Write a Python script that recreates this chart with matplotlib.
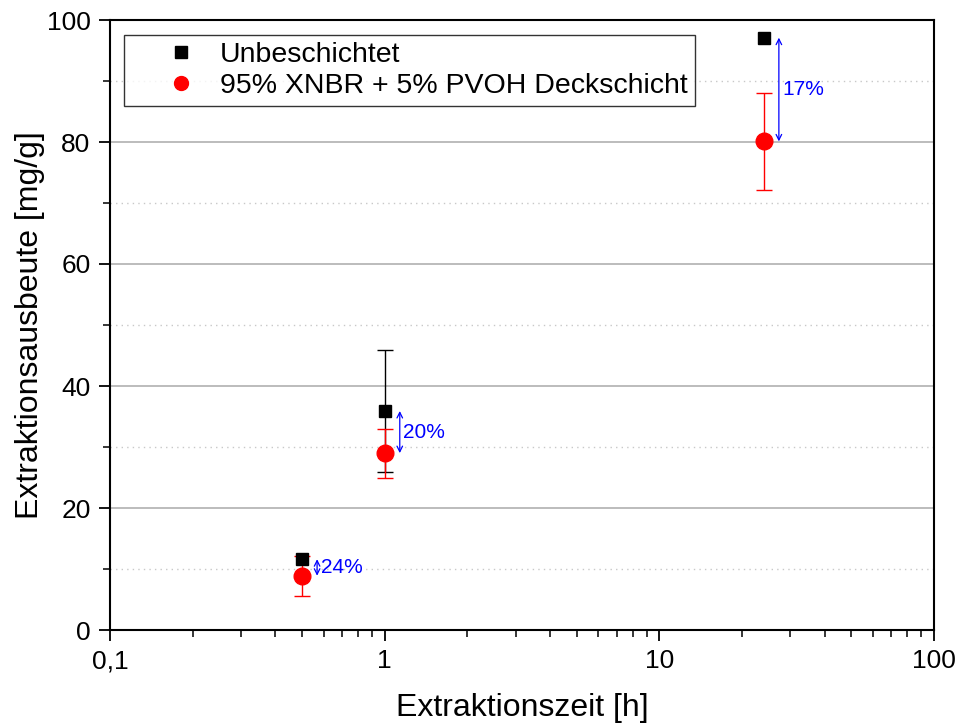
import matplotlib
matplotlib.use("Agg")
from matplotlib import pyplot as plt
from matplotlib.lines import Line2D
from matplotlib.ticker import FixedLocator, LogLocator, NullFormatter
import numpy as np

plt.rcParams['font.family'] = ['Liberation Sans', 'DejaVu Sans']

# extraction times [h]
zeit = [0.5, 1, 24]
# uncoated samples
unbeschichtet = [11.6, 35.9, 97.1]
unbeschichtet_err = [0.0, 10.0, 0.0]
# coated with 95% XNBR + 5% PVOH
deckschicht = [8.9, 29.0, 80.1]
deckschicht_err = [3.3, 4.0, 8.0]
# relative reduction labels
reduktion = ["24%", "20%", "17%"]

fig = plt.figure(figsize=(9.57, 7.27), dpi=100)
ax = fig.add_axes([110 / 957, 97 / 727, 824 / 957, 610 / 727])

# error bars only where a deviation was measured
for x, y, e in zip(zeit, unbeschichtet, unbeschichtet_err):
    if e > 0:
        ax.errorbar(x, y, yerr=e, fmt='none', ecolor='black', elinewidth=1,
                    capsize=6, capthick=1, zorder=3)
for x, y, e in zip(zeit, deckschicht, deckschicht_err):
    if e > 0:
        ax.errorbar(x, y, yerr=e, fmt='none', ecolor='red', elinewidth=1,
                    capsize=6, capthick=1, zorder=4)
ax.plot(zeit, unbeschichtet, 's', color='black', ms=9, zorder=5)
ax.plot(zeit, deckschicht, 'o', color='red', ms=12, zorder=6)

# arrows marking the difference between both series
for x, y1, y2, txt in zip(zeit, unbeschichtet, deckschicht, reduktion):
    xa = x * 1.135
    ax.annotate('', xy=(xa, y2), xytext=(xa, y1),
                arrowprops=dict(arrowstyle='<->', color='blue', lw=0.9,
                                shrinkA=0, shrinkB=0))
    ax.text(x * 1.17, (y1 + y2) / 2, txt, color='blue', fontsize=15,
            va='center', ha='left')

ax.set_xscale('log')
ax.set_xlim(0.1, 100)
ax.set_ylim(0, 100)
ax.set_xticks([0.1, 1, 10, 100])
ax.set_xticklabels(['0,1', '1', '10', '100'])
ax.xaxis.set_minor_locator(LogLocator(base=10, subs=np.arange(2, 10)))
ax.xaxis.set_minor_formatter(NullFormatter())
ax.set_yticks([0, 20, 40, 60, 80, 100])
ax.yaxis.set_minor_locator(FixedLocator([10, 30, 50, 70, 90]))

ax.grid(axis='y', which='major', color='#b0b0b0', lw=1.2)
ax.grid(axis='y', which='minor', color='#c8c8c8', lw=1, ls=(0, (1, 3)))
ax.set_axisbelow(True)

ax.tick_params(which='major', direction='out', length=8, width=1.3,
               labelsize=19, top=False, right=False, pad=6)
ax.tick_params(which='minor', direction='out', length=5, width=1.1,
               top=False, right=False)
for sp in ax.spines.values():
    sp.set_linewidth(1.5)

ax.set_xlabel('Extraktionszeit [h]', fontsize=23, labelpad=14)
ax.set_ylabel('Extraktionsausbeute [mg/g]', fontsize=23, labelpad=1)

handles = [
    Line2D([], [], ls='none', marker='s', color='black', ms=8),
    Line2D([], [], ls='none', marker='o', color='red', ms=10),
]
labels = ['Unbeschichtet', '95% XNBR + 5% PVOH Deckschicht']
leg = ax.legend(handles, labels, loc='upper left', bbox_to_anchor=(0.017, 0.975),
                fontsize=20.5, frameon=True, fancybox=False, edgecolor='black',
                handletextpad=-0.39, borderpad=0.25, labelspacing=0.15,
                handlelength=3.5, borderaxespad=0)
leg.get_frame().set_linewidth(1.0)

fig.savefig('out.png', dpi=100)
